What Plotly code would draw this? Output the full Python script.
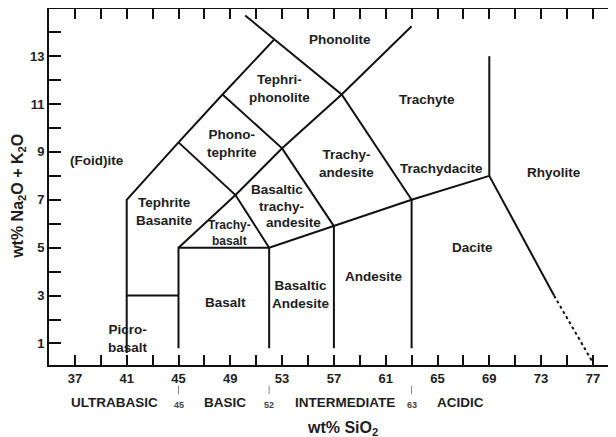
import plotly.graph_objects as go

# ---- Axis ticks ----
x_tick0, x_major_step, x_minor_step = 37, 4, 2
y_tick0, y_major_step, y_minor_step = 1, 2, 1

# ---- TAS boundary polylines (SiO2, Na2O+K2O) ----
line_foidite_x = [41, 41, 45, 48.4, 52.4]
line_foidite_y = [0.6, 7.0, 9.4, 11.4, 13.7]

line_phonolite_x = [50.15, 52.4, 57.6, 63.0]
line_phonolite_y = [14.7, 13.7, 11.4, 7.0]

line_tephrite_x = [45, 49.4, 52.0]
line_tephrite_y = [9.4, 7.2, 5.0]

line_phonotephrite_x = [48.4, 53.0, 57.0]
line_phonotephrite_y = [11.4, 9.15, 5.9]

line_diag_x = [45, 49.4, 53.0, 57.6, 63.0]
line_diag_y = [5.0, 7.2, 9.15, 11.4, 14.25]

line_alkali_x = [45, 45, 52, 57, 63, 69, 74]
line_alkali_y = [0.8, 5.0, 5.0, 5.9, 7.0, 8.0, 3.0]

line_rhyolite_dot_x = [74, 77]
line_rhyolite_dot_y = [3.0, 0.2]

line_picro_x = [41, 45]
line_picro_y = [3.0, 3.0]

line_52_x = [52, 52]
line_52_y = [0.8, 5.0]
line_57_x = [57, 57]
line_57_y = [0.8, 5.9]
line_63_x = [63, 63]
line_63_y = [0.8, 7.0]
line_69_x = [69, 69]
line_69_y = [8.0, 13.0]

solid_lines = [
    (line_foidite_x, line_foidite_y),
    (line_phonolite_x, line_phonolite_y),
    (line_tephrite_x, line_tephrite_y),
    (line_phonotephrite_x, line_phonotephrite_y),
    (line_diag_x, line_diag_y),
    (line_alkali_x, line_alkali_y),
    (line_picro_x, line_picro_y),
    (line_52_x, line_52_y),
    (line_57_x, line_57_y),
    (line_63_x, line_63_y),
    (line_69_x, line_69_y),
]

# ---- Field names ----
field_names = ["Phonolite", "Tephri-<br>phonolite", "Phono-<br>tephrite", "(Foid)ite",
               "Tephrite<br>Basanite", "Basaltic", "trachy-", "andesite",
               "Trachy-<br>andesite",
               "Trachyte", "Trachydacite", "Rhyolite", "Dacite", "Andesite",
               "Basaltic<br>Andesite", "Basalt", "Picro-<br>basalt", "Trachy-<br>basalt"]
field_x = [57.5, 52.8, 49.1, 38.7, 43.95, 52.58, 52.92, 53.89, 58.0, 64.2, 65.3, 74.0,
           67.7, 60.1, 54.45, 48.6, 41.1, 48.95]
field_y = [13.68, 11.67, 9.34, 8.66, 6.53, 7.44, 6.74, 6.04, 8.5, 11.17, 8.29, 8.15,
           5.0, 3.79, 3.03, 2.72, 1.2, 5.6]
field_size = [13.5] * 17 + [12]

# ---- Silica classes under the axis ----
class_names = ["ULTRABASIC", "BASIC", "INTERMEDIATE", "ACIDIC"]
class_x = [40.07, 48.56, 57.87, 66.78]
class_bounds = [45, 52, 63]

fig = go.Figure()
for xs, ys in solid_lines:
    fig.add_trace(go.Scatter(x=xs, y=ys, mode="lines",
                             line=dict(color="#111111", width=2),
                             showlegend=False, hoverinfo="skip"))
fig.add_trace(go.Scatter(x=line_rhyolite_dot_x, y=line_rhyolite_dot_y, mode="lines",
                         line=dict(color="#111111", width=2, dash="dot"),
                         showlegend=False, hoverinfo="skip"))
# invisible trace for the right tick axis
fig.add_trace(go.Scatter(x=[36], y=[1], yaxis="y2", mode="markers",
                         marker=dict(opacity=0), showlegend=False, hoverinfo="skip"))

font_family = "Liberation Sans, Arial, sans-serif"

for name, x, y, s in zip(field_names, field_x, field_y, field_size):
    fig.add_annotation(x=x, y=y, xref="x", yref="y", text="<b>" + name + "</b>",
                       showarrow=False, xanchor="center", yanchor="middle",
                       font=dict(family=font_family, size=s, color="#1e1e1e"),
                       align="center")

for name, x in zip(class_names, class_x):
    fig.add_annotation(x=x, y=-0.106, xref="x", yref="paper", text="<b>" + name + "</b>",
                       showarrow=False, xanchor="center", yanchor="middle",
                       font=dict(family=font_family, size=13.5, color="#1e1e1e"))

for b in class_bounds:
    fig.add_annotation(x=b, y=-0.113, xref="x", yref="paper", text="<b>" + str(b) + "</b>",
                       showarrow=False, xanchor="center", yanchor="middle",
                       font=dict(family=font_family, size=9, color="#444444"))
    fig.add_shape(type="line", xref="x", yref="paper", x0=b, x1=b, y0=-0.058, y1=-0.082,
                  line=dict(color="#888888", width=1))

fig.add_annotation(x=0.517, y=-0.178, xref="paper", yref="paper",
                   text="<b>wt% SiO<sub>2</sub></b>", showarrow=False,
                   xanchor="center", yanchor="middle",
                   font=dict(family=font_family, size=16, color="#1e1e1e"))
fig.add_annotation(x=-0.053, y=0.475, xref="paper", yref="paper",
                   text="<b>wt% Na<sub>2</sub>O + K<sub>2</sub>O</b>", showarrow=False,
                   textangle=-90, xanchor="center", yanchor="middle",
                   font=dict(family=font_family, size=16, color="#1e1e1e"))

tick_font = dict(family=font_family, size=13, color="#1e1e1e", weight="bold")

# the page body has an 8px margin: figure is 608x429 so it fits the 616x437 window
fig.update_layout(
    width=608, height=429,
    margin=dict(l=41, r=0, t=1, b=72, autoexpand=False),
    paper_bgcolor="white", plot_bgcolor="white",
    xaxis=dict(range=[35, 35 + 567 / 12.95], tickmode="linear",
               tick0=x_tick0, dtick=x_major_step,
               ticks="inside", ticklen=10, tickwidth=2, tickcolor="#111111",
               minor=dict(tick0=x_tick0, dtick=x_minor_step, ticks="inside",
                          ticklen=10, tickwidth=2, tickcolor="#111111", showgrid=False),
               showline=True, linewidth=2, linecolor="#111111", mirror="ticks",
               showgrid=False, zeroline=False, automargin=False,
               tickfont=tick_font),
    yaxis=dict(range=[0.1, 0.1 + 356 / 23.94], tickmode="linear",
               tick0=y_tick0, dtick=y_major_step,
               ticks="inside", ticklen=12, tickwidth=2, tickcolor="#111111",
               minor=dict(tick0=y_tick0, dtick=y_minor_step, ticks="inside",
                          ticklen=12, tickwidth=2, tickcolor="#111111", showgrid=False),
               showline=True, linewidth=2, linecolor="#111111", mirror=False,
               showgrid=False, zeroline=False, automargin=False,
               tickfont=tick_font),
    yaxis2=dict(range=[0.1, 0.1 + 356 / 23.94], overlaying="y", side="right",
                tickmode="linear", tick0=y_tick0, dtick=y_minor_step,
                ticks="inside", ticklen=8, tickwidth=2, tickcolor="#111111",
                showticklabels=False, showline=False, showgrid=False, zeroline=False,
                automargin=False),
)

fig.write_html("out.html")
